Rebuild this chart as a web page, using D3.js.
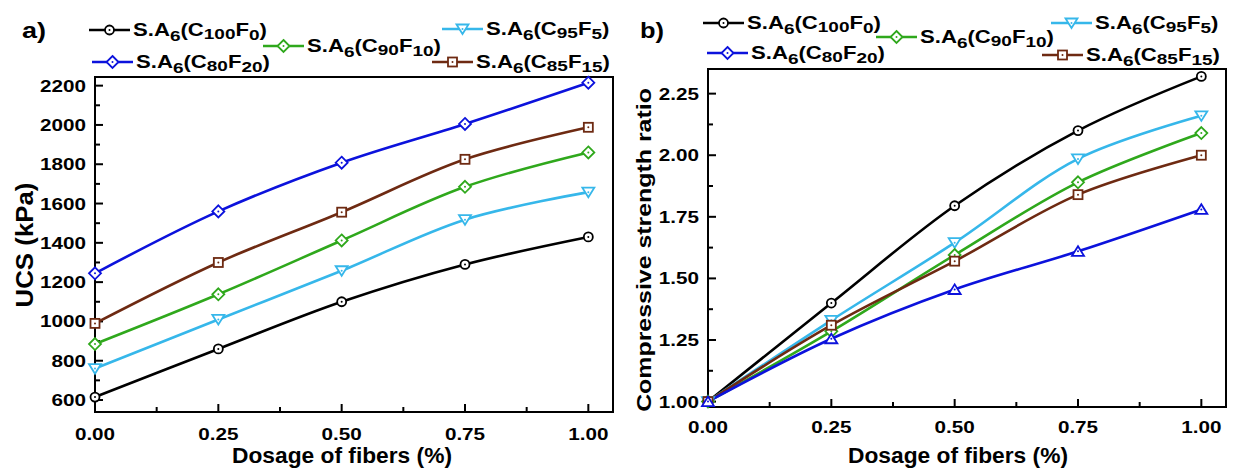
<!DOCTYPE html>
<html>
<head>
<meta charset="utf-8">
<script src="https://cdn.jsdelivr.net/npm/d3@7"></script>
<style>
  body { margin: 0; background: #fff; }
  svg { font-family: "Liberation Sans", Arial, sans-serif; font-weight: bold; }
</style>
</head>
<body>
<div id="chart"></div>
<script>
// shared x values
var dosage = [0, 0.25, 0.5, 0.75, 1.0]

// panel a) UCS (kPa)
var ucsC100F0 = [615, 860, 1100, 1290, 1430]
var ucsC95F5 = [760, 1010, 1258, 1518, 1658]
var ucsC90F10 = [885, 1138, 1412, 1685, 1860]
var ucsC85F15 = [990, 1300, 1556, 1825, 1988]
var ucsC80F20 = [1245, 1560, 1808, 2005, 2215]

// panel b) compressive strength ratio
var ratioC100F0 = [1, 1.40, 1.795, 2.10, 2.32]
var ratioC95F5 = [1, 1.33, 1.645, 1.985, 2.16]
var ratioC90F10 = [1, 1.285, 1.595, 1.89, 2.09]
var ratioC85F15 = [1, 1.31, 1.57, 1.84, 2.00]
var ratioC80F20 = [1, 1.255, 1.455, 1.61, 1.78]

var xTicks = [0, 0.25, 0.5, 0.75, 1.0]
var ucsTicks = [600, 800, 1000, 1200, 1400, 1600, 1800, 2000, 2200]
var ratioTicks = [1.00, 1.25, 1.50, 1.75, 2.00, 2.25]

// series names: [C sub, F sub]
var seriesNames = [["100", "0"], ["95", "5"], ["90", "10"], ["85", "15"], ["80", "20"]]
var colors = ["#000000", "#36b7ea", "#2fa81c", "#6e2a12", "#0c12dc"]

w = 1235
h = 469

var svg = d3.select("#chart").append("svg")
  .attr("width", w)
  .attr("height", h)

// the figure's font is wider than Arial: measure one sample string and
// work out how much to stretch sideways so it hits the width seen in the figure
function stretchFor(str, size, target) {
  var t = svg.append("text").attr("font-size", size).text(str)
  var wd = t.node().getComputedTextLength()
  t.remove()
  return target / wd
}
var tickStretch = stretchFor("2200", 17, 46)

// text stretched along its own direction
function stext(parent, x, y, str, size, anchor, rot, stretch) {
  return parent.append("g")
    .attr("transform", `translate(${x},${y}) rotate(${rot || 0}) scale(${stretch},1)`)
    .append("text").attr("text-anchor", anchor || "start").attr("font-size", size).text(str)
}

// markers
function marker(g, type, color, x, y) {
  var s
  if (type == "circle") {
    g.append("circle").attr("cx", x).attr("cy", y).attr("r", 4.5)
      .attr("fill", "#fff").attr("stroke", color).attr("stroke-width", 1.8)
  } else if (type == "diamond") {
    s = 6
    g.append("path").attr("d", `M${x},${y-s}L${x+s},${y}L${x},${y+s}L${x-s},${y}Z`)
      .attr("fill", "#fff").attr("stroke", color).attr("stroke-width", 1.8)
  } else if (type == "square") {
    s = 4.5
    g.append("rect").attr("x", x-s).attr("y", y-s).attr("width", 2*s).attr("height", 2*s)
      .attr("fill", "#fff").attr("stroke", color).attr("stroke-width", 1.8)
  } else if (type == "tridown") {
    s = 6
    g.append("path").attr("d", `M${x-s},${y-s*0.75}L${x+s},${y-s*0.75}L${x},${y+s*0.85}Z`)
      .attr("fill", "#fff").attr("stroke", color).attr("stroke-width", 1.8)
  } else if (type == "triup") {
    s = 6
    g.append("path").attr("d", `M${x-s},${y+s*0.75}L${x+s},${y+s*0.75}L${x},${y-s*0.85}Z`)
      .attr("fill", "#fff").attr("stroke", color).attr("stroke-width", 1.8)
  }
  g.append("circle").attr("cx", x).attr("cy", y).attr("r", 1).attr("fill", color)
}

function legendLabel(g, x, y, name, stretch) {
  var t = stext(g, x, y, "", 17.5, "start", 0, stretch)
  t.append("tspan").text("S.A")
  t.append("tspan").attr("font-size", 15).attr("dy", 5).text("6")
  t.append("tspan").attr("dy", -5).text("(C")
  t.append("tspan").attr("font-size", 15).attr("dy", 3).text(name[0])
  t.append("tspan").attr("dy", -3).text("F")
  t.append("tspan").attr("font-size", 15).attr("dy", 4).text(name[1])
  t.append("tspan").attr("dy", -4).text(")")
  return t
}

// legend stretch measured on the first label
var probe = svg.append("g")
var probeText = legendLabel(probe, 0, 0, seriesNames[0], 1)
var legendStretch = 134 / probeText.node().getBBox().width
probe.remove()

function drawPanel(cfg) {
  var g = svg.append("g")
  var x = d3.scaleLinear().domain([0, 1.05]).range([cfg.left, cfg.right])
  var y = d3.scaleLinear().domain(cfg.yDomain).range([cfg.bottom, cfg.top])

  // frame
  g.append("rect").attr("x", cfg.left).attr("y", cfg.top)
    .attr("width", cfg.right - cfg.left).attr("height", cfg.bottom - cfg.top)
    .attr("fill", "none").attr("stroke", "#000").attr("stroke-width", 2)

  // x axis ticks (inward)
  var xMinor = d3.range(0.125, 1.05, 0.25)
  xTicks.forEach(function(d) {
    g.append("line").attr("x1", x(d)).attr("x2", x(d)).attr("y1", cfg.bottom).attr("y2", cfg.bottom - 8)
      .attr("stroke", "#000").attr("stroke-width", 2)
    stext(g, x(d), cfg.bottom + cfg.xLabelOff, d3.format(".2f")(d), 17, "middle", 0, tickStretch)
  })
  xMinor.forEach(function(d) {
    g.append("line").attr("x1", x(d)).attr("x2", x(d)).attr("y1", cfg.bottom).attr("y2", cfg.bottom - 5)
      .attr("stroke", "#000").attr("stroke-width", 2)
  })

  // y axis ticks
  cfg.yTicks.forEach(function(d) {
    g.append("line").attr("x1", cfg.left).attr("x2", cfg.left + 8).attr("y1", y(d)).attr("y2", y(d))
      .attr("stroke", "#000").attr("stroke-width", 2)
    stext(g, cfg.left - 9, y(d) + 6, cfg.yFormat(d), 17, "end", 0, tickStretch)
  })
  cfg.yMinor.forEach(function(d) {
    g.append("line").attr("x1", cfg.left).attr("x2", cfg.left + 5).attr("y1", y(d)).attr("y2", y(d))
      .attr("stroke", "#000").attr("stroke-width", 2)
  })

  // axis titles
  var xt = "Dosage of fibers (%)"
  stext(g, cfg.xTitleX, 463, xt, 22, "middle", 0, stretchFor(xt, 22, 220))
  stext(g, cfg.yTitleX, cfg.yTitleY, cfg.yTitle, cfg.yTitleSize, "middle", -90,
    stretchFor(cfg.yTitle, cfg.yTitleSize, cfg.yTitleLen))

  // lines
  var line = d3.line().x(function(d, i) { return x(dosage[i]) }).y(function(d) { return y(d) })
    .curve(d3.curveCatmullRom.alpha(0.5))
  cfg.series.forEach(function(s, k) {
    g.append("path").attr("d", line(s)).attr("fill", "none")
      .attr("stroke", colors[k]).attr("stroke-width", 2.6)
  })
  cfg.series.forEach(function(s, k) {
    s.forEach(function(v, i) {
      marker(g, cfg.markers[k], colors[k], x(dosage[i]), y(v))
    })
  })

  // panel letter
  stext(g, cfg.letterX, 38, cfg.letter, 22, "start", 0, stretchFor(cfg.letter, 22, 24))

  // legend
  cfg.legend.forEach(function(l) {
    var k = l.k
    g.append("line").attr("x1", l.x).attr("x2", l.x + 41).attr("y1", l.y).attr("y2", l.y)
      .attr("stroke", colors[k]).attr("stroke-width", 2.6)
    marker(g, l.m, colors[k], l.x + 20.5, l.y)
    legendLabel(g, l.x + 44, l.y + 6, seriesNames[k], legendStretch)
  })
}

drawPanel({
  left: 95, right: 613, top: 77, bottom: 412,
  yDomain: [539, 2244],
  yTicks: ucsTicks,
  yMinor: d3.range(700, 2201, 200),
  yFormat: d3.format("d"),
  yTitle: "UCS (kPa)", yTitleX: 33, yTitleY: 245, yTitleSize: 23, yTitleLen: 125,
  xTitleX: 342,
  xLabelOff: 28,
  series: [ucsC100F0, ucsC95F5, ucsC90F10, ucsC85F15, ucsC80F20],
  markers: ["circle", "tridown", "diamond", "square", "diamond"],
  letter: "a)", letterX: 22,
  legend: [
    {k: 0, x: 89, y: 30, m: "circle"},
    {k: 2, x: 263, y: 46, m: "diamond"},
    {k: 1, x: 442, y: 29, m: "tridown"},
    {k: 4, x: 92, y: 62, m: "diamond"},
    {k: 3, x: 432, y: 62, m: "square"}
  ]
})

drawPanel({
  left: 708, right: 1226, top: 69, bottom: 407,
  yDomain: [0.978, 2.35],
  yTicks: ratioTicks,
  yMinor: d3.range(1.125, 2.35, 0.25),
  yFormat: d3.format(".2f"),
  yTitle: "Compressive strength ratio", yTitleX: 651, yTitleY: 250, yTitleSize: 20.5, yTitleLen: 324,
  xTitleX: 958,
  xLabelOff: 26,
  series: [ratioC100F0, ratioC95F5, ratioC90F10, ratioC85F15, ratioC80F20],
  markers: ["circle", "tridown", "diamond", "square", "triup"],
  letter: "b)", letterX: 640,
  legend: [
    {k: 0, x: 703, y: 23, m: "circle"},
    {k: 2, x: 876, y: 37, m: "diamond"},
    {k: 1, x: 1051, y: 23, m: "tridown"},
    {k: 4, x: 707, y: 53, m: "diamond"},
    {k: 3, x: 1042, y: 55, m: "square"}
  ]
})
</script>
</body>
</html>
